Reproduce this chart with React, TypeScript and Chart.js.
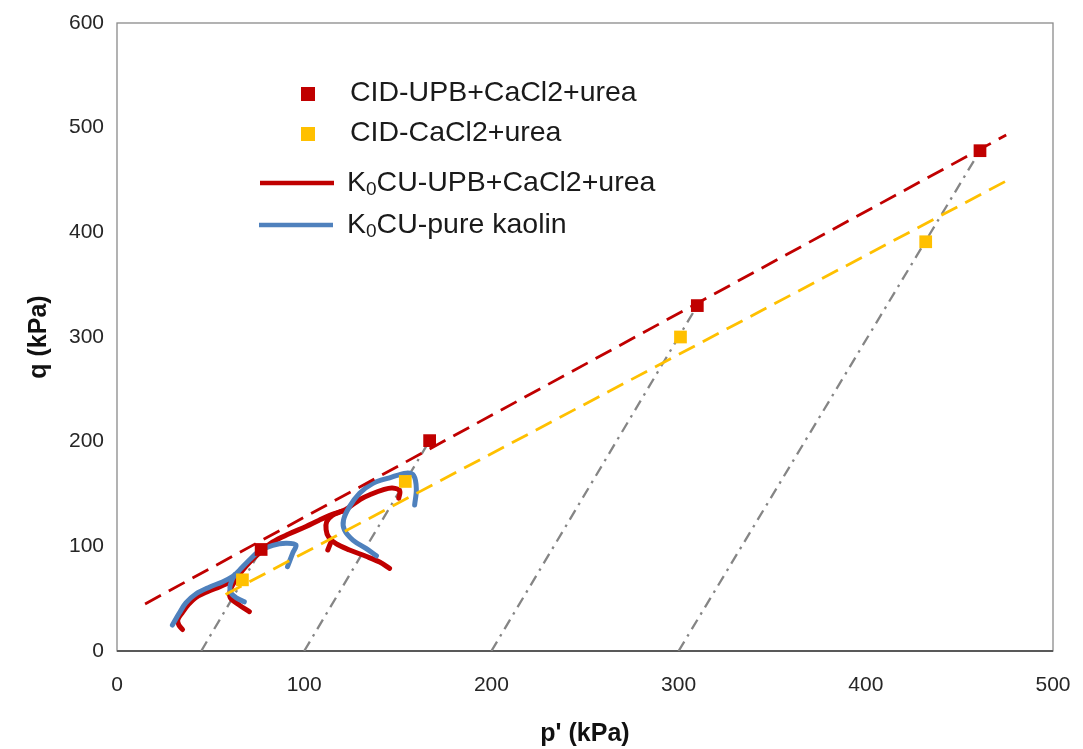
import React, { useEffect, useRef } from "react";
import { Chart, registerables } from "chart.js";

Chart.register(...registerables);

// CID failure points (p', q) in kPa
const cidUpbP = [77, 167, 310, 461];
const cidUpbQ = [97, 201, 330, 478];
const cidCaP = [67, 154, 301, 432];
const cidCaQ = [68, 162, 300, 391];

// Failure envelopes (dashed)
const upbEnvP = [15, 475];
const upbEnvQ = [45, 493];
const caEnvP = [58, 476];
const caEnvQ = [54, 450];

// Drained total stress paths (dash-dot), from the p' axis up to failure
const tspP = [
  [45, 77],
  [100, 167],
  [200, 310],
  [300, 461],
];
const tspQ = [
  [0, 97],
  [0, 201],
  [0, 330],
  [0, 478],
];

// K0CU-UPB+CaCl2+urea effective stress paths
const upbTailP = [35, 33, 32.5, 35, 38, 42, 48, 55, 61];
const upbTailQ = [20.5, 25, 30, 37, 44, 51, 56.5, 61.5, 66];
const upbLowP = [70.7, 65.3, 60.5, 60.5, 63, 67, 72, 77, 83, 92, 101, 108, 115, 122, 130, 136, 142, 147, 151, 150.5];
const upbLowQ = [37.6, 44, 51, 58, 67, 77, 87, 95, 104, 112, 119, 125, 130.5, 135, 145, 150, 154, 155.8, 153, 146];
const upbHighP = [145.6, 140.3, 133, 124.2, 117, 113, 111.7, 112, 115, 120];
const upbHighQ = [79, 85, 90.5, 96.5, 102.5, 109, 116, 123.5, 129.5, 133.5];
const upbHookP = [114.5, 112.6];
const upbHookQ = [105, 96.5];

// K0CU-pure kaolin effective stress paths
const kaoLowP = [29.6, 33.2, 36.8, 42.1, 49.3, 56.3, 61.7, 65.3, 70.7, 76, 83.2, 90.2, 95.6, 93.8, 91.1];
const kaoLowQ = [24.8, 36, 46, 54.5, 61, 66, 71, 77, 86.9, 95.5, 101, 103, 101.3, 93.3, 80.6];
const kaoStartP = [68, 64, 61, 60.3, 61.5, 63];
const kaoStartQ = [47, 50.5, 55, 61, 68, 73];
const kaoHighP = [138.6, 133, 126, 121.5, 121, 124.2, 129.6, 136.7, 145.6, 154.5, 158.5, 159.9, 159];
const kaoHighQ = [91, 98, 106, 115.6, 125.2, 137.9, 150.7, 160.3, 165.5, 169.9, 167.5, 155, 139.5];

// Axis ticks and titles
const xTicks = [0, 100, 200, 300, 400, 500];
const yTicks = [0, 100, 200, 300, 400, 500, 600];
const xTitle = "p' (kPa)";
const yTitle = "q (kPa)";

// Legend entries
const legendCidUpb = "CID-UPB+CaCl2+urea";
const legendCidCa = "CID-CaCl2+urea";
const legendK0Upb = "CU-UPB+CaCl2+urea";
const legendK0Kao = "CU-pure kaolin";

const RED = "#C00000";
const YELLOW = "#FFC000";
const BLUE = "#4F81BD";
const GREY = "#858585";
const FONT = '"Liberation Sans", Arial, sans-serif';

const pts = (xs: number[], ys: number[]) => xs.map((x, i) => ({ x, y: ys[i] }));

const pathSet = (xs: number[], ys: number[], color: string) => ({
  data: pts(xs, ys),
  showLine: true,
  borderColor: color,
  backgroundColor: color,
  borderWidth: 5,
  pointRadius: 0,
  tension: 0.35,
  borderCapStyle: "round" as const,
  borderJoinStyle: "round" as const,
  order: 2,
});

const legendPlugin = {
  id: "paperLegend",
  afterDraw(chart: any) {
    const ctx = chart.ctx as CanvasRenderingContext2D;
    ctx.save();
    ctx.textBaseline = "middle";
    const big = `28.5px ${FONT}`;
    const small = `19px ${FONT}`;

    // square markers
    ctx.fillStyle = RED;
    ctx.fillRect(301, 87, 14, 14);
    ctx.fillStyle = YELLOW;
    ctx.fillRect(301, 127, 14, 14);
    ctx.fillStyle = "#1a1a1a";
    ctx.font = big;
    ctx.fillText(legendCidUpb, 350, 93);
    ctx.fillText(legendCidCa, 350, 133);

    // line samples
    ctx.lineWidth = 4.5;
    ctx.lineCap = "butt";
    ctx.strokeStyle = RED;
    ctx.beginPath();
    ctx.moveTo(260, 183);
    ctx.lineTo(334, 183);
    ctx.stroke();
    ctx.strokeStyle = BLUE;
    ctx.beginPath();
    ctx.moveTo(259, 225);
    ctx.lineTo(333, 225);
    ctx.stroke();

    const drawK0 = (rest: string, x: number, y: number) => {
      ctx.font = big;
      ctx.fillText("K", x, y);
      const kw = ctx.measureText("K").width;
      ctx.font = small;
      ctx.fillText("0", x + kw, y + 7);
      const zw = ctx.measureText("0").width;
      ctx.font = big;
      ctx.fillText(rest, x + kw + zw, y);
    };
    drawK0(legendK0Upb, 347, 183);
    drawK0(legendK0Kao, 347, 225);
    ctx.restore();
  },
};

const framePlugin = {
  id: "plotFrame",
  beforeDatasetsDraw(chart: any) {
    const { ctx, chartArea } = chart;
    const { left, right, top, bottom } = chartArea;
    ctx.save();
    ctx.strokeStyle = "#8a8a8a";
    ctx.lineWidth = 1.3;
    ctx.strokeRect(left, top, right - left, bottom - top);
    ctx.strokeStyle = "#595959";
    ctx.lineWidth = 2.2;
    ctx.beginPath();
    ctx.moveTo(left, bottom);
    ctx.lineTo(right, bottom);
    ctx.stroke();
    ctx.restore();
  },
};

export default function App() {
  const canvasRef = useRef<HTMLCanvasElement | null>(null);

  useEffect(() => {
    if (!canvasRef.current) return;

    const tspSets = tspP.map((xs, i) => ({
      data: pts(xs, tspQ[i]),
      showLine: true,
      borderColor: GREY,
      borderWidth: 2.3,
      borderDash: [11, 6, 2.5, 6],
      pointRadius: 0,
      order: 4,
    }));

    const tickFont = { family: FONT, size: 21 };
    const titleFont = { family: FONT, size: 25, weight: "bold" as const };

    const chart = new Chart(canvasRef.current, {
      type: "scatter",
      data: {
        datasets: [
          {
            label: legendCidUpb,
            data: pts(cidUpbP, cidUpbQ),
            pointStyle: "rect",
            pointRadius: 9,
            pointBackgroundColor: RED,
            pointBorderWidth: 0,
            order: 0,
          },
          {
            label: legendCidCa,
            data: pts(cidCaP, cidCaQ),
            pointStyle: "rect",
            pointRadius: 9,
            pointBackgroundColor: YELLOW,
            pointBorderWidth: 0,
            order: 0,
          },
          {
            data: pts(upbEnvP, upbEnvQ),
            showLine: true,
            borderColor: RED,
            borderWidth: 2.8,
            borderDash: [18, 9],
            pointRadius: 0,
            order: 1,
          },
          {
            data: pts(caEnvP, caEnvQ),
            showLine: true,
            borderColor: YELLOW,
            borderWidth: 2.8,
            borderDash: [18, 9],
            pointRadius: 0,
            order: 1,
          },
          pathSet(kaoLowP, kaoLowQ, BLUE),
          pathSet(kaoStartP, kaoStartQ, BLUE),
          pathSet(kaoHighP, kaoHighQ, BLUE),
          { ...pathSet(upbTailP, upbTailQ, RED), order: 3 },
          { ...pathSet(upbLowP, upbLowQ, RED), order: 3 },
          { ...pathSet(upbHighP, upbHighQ, RED), order: 3 },
          { ...pathSet(upbHookP, upbHookQ, RED), order: 3 },
          ...tspSets,
        ] as any,
      },
      options: {
        animation: false,
        responsive: false,
        maintainAspectRatio: false,
        events: [],
        layout: { padding: { top: 23, right: 30, bottom: 0, left: 0 } },
        plugins: {
          legend: { display: false },
          tooltip: { enabled: false },
        },
        scales: {
          x: {
            type: "linear",
            min: 0,
            max: 500,
            afterBuildTicks: (s: any) => {
              s.ticks = xTicks.map((v) => ({ value: v }));
            },
            ticks: { padding: 22, font: tickFont, color: "#262626" },
            grid: { display: false, drawTicks: false },
            border: { display: false },
            title: {
              display: true,
              text: xTitle,
              font: titleFont,
              color: "#111111",
              padding: { top: 0, bottom: 0 },
            },
            afterFit: (s: any) => {
              s.height = 98;
              s.paddingLeft = 0;
              s.paddingRight = 0;
            },
          },
          y: {
            type: "linear",
            min: 0,
            max: 600,
            afterBuildTicks: (s: any) => {
              s.ticks = yTicks.map((v) => ({ value: v }));
            },
            ticks: { padding: 13, font: tickFont, color: "#262626" },
            grid: { display: false, drawTicks: false },
            border: { display: false },
            title: {
              display: true,
              text: yTitle,
              font: titleFont,
              color: "#111111",
              padding: { top: 24, bottom: 0 },
            },
            afterFit: (s: any) => {
              s.width = 117;
              s.paddingTop = 0;
              s.paddingBottom = 0;
            },
          },
        },
      },
      plugins: [framePlugin, legendPlugin],
    });

    return () => chart.destroy();
  }, []);

  return (
    <div style={{ position: "fixed", left: 0, top: 0, width: 1083, height: 749, background: "#ffffff" }}>
      <canvas ref={canvasRef} width={1083} height={749} style={{ display: "block" }} />
    </div>
  );
}
